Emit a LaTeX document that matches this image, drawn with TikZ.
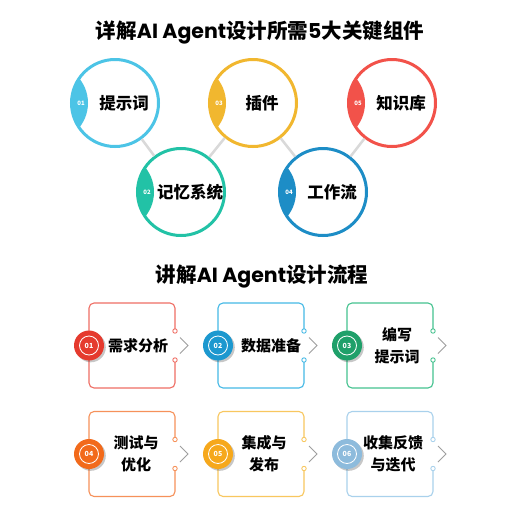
\documentclass[tikz,border=0pt]{standalone}
\usepackage{fontspec}
\setmainfont{Noto Sans CJK SC}[BoldFont={* Black}]
\newfontfamily\pop{Poppins}[BoldFont={* Bold}]
\definecolor{cA}{HTML}{4CC4E6}
\definecolor{cB}{HTML}{22C2A6}
\definecolor{cC}{HTML}{F1B72F}
\definecolor{cD}{HTML}{1D8DC6}
\definecolor{cE}{HTML}{F2524A}
\definecolor{lnk}{HTML}{D9D9D9}
\definecolor{bx1}{HTML}{EF6E64}
\definecolor{bx2}{HTML}{45B9E6}
\definecolor{bx3}{HTML}{45C28F}
\definecolor{bx4}{HTML}{F6915A}
\definecolor{bx5}{HTML}{F8C75F}
\definecolor{bx6}{HTML}{A9D1EC}
\definecolor{bg1}{HTML}{E53A2E}
\definecolor{bg2}{HTML}{1C98CF}
\definecolor{bg3}{HTML}{1FA06A}
\definecolor{bg4}{HTML}{F26A1B}
\definecolor{bg5}{HTML}{F6A81C}
\definecolor{bg6}{HTML}{8DBBDC}
\tikzset{
  ring/.style={circle, minimum size=87pt, inner sep=0pt, line width=3pt, fill=white, draw=#1},
  clabel/.style={font=\bfseries\fontsize{16.5}{18}\selectfont, text=black},
  lnum/.style={font=\bfseries\fontsize{6}{6}\selectfont, text=white},
  btext/.style={font=\bfseries\fontsize{15}{22}\selectfont, align=center, text=black},
  badge/.style={circle, minimum size=30pt, inner sep=0pt, fill=#1},
  bnum/.style={font=\bfseries\fontsize{7}{7}\selectfont, text=white},
  link/.style={draw=lnk, line width=2.5pt},
  chev/.style={draw=gray!75, line width=0.8pt},
  ttl/.style={font=\bfseries\fontsize{20.5}{24}\selectfont, text=black}
}
\newcommand\compring[6]{% name, x, y, colour, number, label
  \node[ring=#4] (#1) at (#2,#3) {};
  \begin{scope}
    \clip (#2,#3) circle (43.5pt);
    \fill[#4] (#2-66,#3) circle (39pt);
  \end{scope}
  \node[lnum] (#1n) at (#2-34,#3) {#5};
  \node[clabel] (#1t) at (#2+9,#3) {#6};
}
\newcommand\procbox[8]{% id, left, cy, boxcol, badgecol, num, textx, text
  \draw[line width=1.1pt, draw=#4, rounded corners=5pt]
    (#2+86,#3-14.5) -- (#2+86,#3-42.5) -- (#2,#3-42.5) -- (#2,#3+42.5)
    -- (#2+86,#3+42.5) -- (#2+86,#3+14.5);
  \draw[#4, fill=white, line width=0.9pt] (#2+86,#3-14.5) circle (2.2pt);
  \draw[#4, fill=white, line width=0.9pt] (#2+86,#3+14.5) circle (2.2pt);
  \draw[chev] (#2+91,#3-8) -- (#2+99,#3) -- (#2+91,#3+8);
  \fill[black, opacity=0.22] (#2+1.8,#3+1.8) circle (15pt);
  \node[badge=#5] (b#1) at (#2,#3) {};
  \draw[white, line width=0.8pt] (b#1.center) circle (9.5pt);
  \node[bnum] (b#1n) at (b#1) {#6};
  \node[btext] (t#1) at (#7,#3) {#8};
}
\begin{document}
\begin{tikzpicture}[x=1pt, y=-1pt]
\useasboundingbox[fill=white] (0,0) rectangle (520,520);

\node[ttl] (title1) at (260,32) {详解{\pop AI Agent}设计所需{\pop 5}大关键组件};

\compring{c1}{115}{103}{cA}{01}{提示词}
\compring{c3}{253}{103}{cC}{03}{插件}
\compring{c5}{392}{103}{cE}{05}{知识库}
\compring{c2}{181}{192}{cB}{02}{记忆系统}
\compring{c4}{323}{192}{cD}{04}{工作流}

\draw[link] (c1) -- (c2);
\draw[link] (c2) -- (c3);
\draw[link] (c3) -- (c4);
\draw[link] (c4) -- (c5);

\node[ttl] (title2) at (262,277) {讲解{\pop AI Agent}设计流程};

\procbox{1}{89}{345.5}{bx1}{bg1}{01}{138}{需求分析}
\procbox{2}{218}{345.5}{bx2}{bg2}{02}{271}{数据准备}
\procbox{3}{347}{345.5}{bx3}{bg3}{03}{397}{编写\\提示词}
\procbox{4}{89}{454}{bx4}{bg4}{04}{136}{测试与\\优化}
\procbox{5}{218}{454}{bx5}{bg5}{05}{264}{集成与\\发布}
\procbox{6}{347}{454}{bx6}{bg6}{06}{393}{收集反馈\\与迭代}
\end{tikzpicture}
\end{document}
